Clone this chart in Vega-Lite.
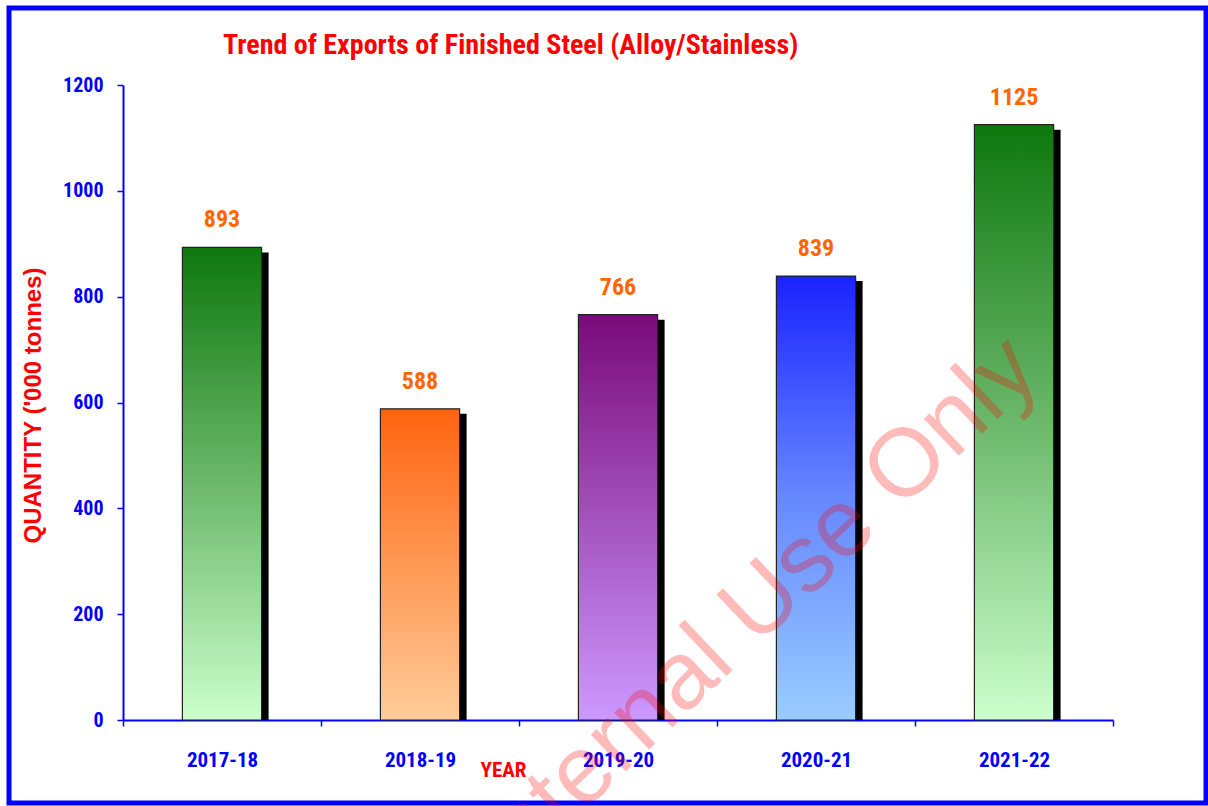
{
  "$schema": "https://vega.github.io/schema/vega-lite/v6.json",
  "width": 1197,
  "height": 795,
  "autosize": {"type": "none"},
  "padding": {"left": 9, "top": 8, "right": 2, "bottom": 3},
  "background": "white",
  "title": {
    "text": "Trend of Exports of Finished Steel (Alloy/Stainless)",
    "anchor": "start",
    "frame": "group",
    "offset": 0,
    "dx": 214,
    "dy": 74,
    "baseline": "alphabetic",
    "font": "Roboto Condensed, DejaVu Sans Condensed, sans-serif",
    "fontSize": 28,
    "fontWeight": "bold",
    "color": "#ff0000"
  },
  "config": {
    "view": {"stroke": "#0000ff", "strokeWidth": 5, "fill": "white"}
  },
  "datasets": {
    "exports": [
      {"year": "2017-18", "qty": 893},
      {"year": "2018-19", "qty": 588},
      {"year": "2019-20", "qty": 766},
      {"year": "2020-21", "qty": 839},
      {"year": "2021-22", "qty": 1125}
    ],
    "watermark": [
      {"note": "Internal Use Only", "year": "2020-21", "qty": 208}
    ]
  },
  "layer": [
    {
      "data": {"name": "exports"},
      "encoding": {
        "x": {
          "field": "year",
          "type": "nominal",
          "sort": null,
          "scale": {"range": [114, 1104], "paddingInner": 0, "paddingOuter": 0},
          "axis": {
            "title": "YEAR",
            "orient": "bottom",
            "offset": -83,
            "labelAngle": 0,
            "tickBand": "extent",
            "domainColor": "#0000ff",
            "domainWidth": 2,
            "tickColor": "#0000ff",
            "tickWidth": 1.5,
            "tickSize": 6,
            "labelColor": "#0000ff",
            "labelFont": "Roboto Condensed, DejaVu Sans Condensed, sans-serif",
            "labelFontSize": 21,
            "labelFontWeight": "bold",
            "labelBaseline": "middle",
            "labelPadding": 34,
            "titleColor": "#ff0000",
            "titleFont": "Roboto Condensed, DejaVu Sans Condensed, sans-serif",
            "titleFontSize": 21,
            "titleFontWeight": "bold",
            "titleX": 494,
            "titleY": 50,
            "titleAlign": "center",
            "titleBaseline": "middle",
            "grid": false
          }
        },
        "y": {
          "field": "qty",
          "type": "quantitative",
          "scale": {"domain": [0, 1200], "range": [712, 77], "nice": false, "zero": true},
          "axis": {
            "title": "QUANTITY ('000 tonnes)",
            "orient": "left",
            "offset": -114,
            "values": [0, 200, 400, 600, 800, 1000, 1200],
            "format": "d",
            "domainColor": "#0000ff",
            "domainWidth": 2,
            "tickColor": "#0000ff",
            "tickWidth": 1.5,
            "tickSize": 6,
            "labelColor": "#0000ff",
            "labelFont": "Roboto Condensed, DejaVu Sans Condensed, sans-serif",
            "labelFontSize": 20,
            "labelFontWeight": "bold",
            "labelPadding": 14,
            "titleColor": "#ff0000",
            "titleFont": "Liberation Sans, Arial, sans-serif",
            "titleFontSize": 24,
            "titleFontWeight": "bold",
            "titleAngle": -90,
            "titleX": -90,
            "titleY": 397,
            "titleAlign": "center",
            "titleBaseline": "middle",
            "grid": false
          }
        }
      },
      "layer": [
        {
          "mark": {"type": "bar", "width": {"band": 0.4}, "fill": "#000000", "xOffset": 7, "yOffset": 5},
          "encoding": {"y2": {"datum": 0}}
        },
        {
          "transform": [{"filter": {"field": "year", "oneOf": ["2017-18", "2021-22"]}}],
          "mark": {
            "type": "bar", "width": {"band": 0.4}, "stroke": "#222222", "strokeWidth": 1.2,
            "color": {"gradient": "linear", "x1": 0, "y1": 0, "x2": 0, "y2": 1,
              "stops": [{"offset": 0, "color": "#0e780e"}, {"offset": 0.5, "color": "#6cb86c"}, {"offset": 1, "color": "#ccffcc"}]}
          },
          "encoding": {"y2": {"datum": 0}}
        },
        {
          "transform": [{"filter": {"field": "year", "equal": "2018-19"}}],
          "mark": {
            "type": "bar", "width": {"band": 0.4}, "stroke": "#222222", "strokeWidth": 1.2,
            "color": {"gradient": "linear", "x1": 0, "y1": 0, "x2": 0, "y2": 1,
              "stops": [{"offset": 0, "color": "#ff6410"}, {"offset": 1, "color": "#ffcc99"}]}
          },
          "encoding": {"y2": {"datum": 0}}
        },
        {
          "transform": [{"filter": {"field": "year", "equal": "2019-20"}}],
          "mark": {
            "type": "bar", "width": {"band": 0.4}, "stroke": "#222222", "strokeWidth": 1.2,
            "color": {"gradient": "linear", "x1": 0, "y1": 0, "x2": 0, "y2": 1,
              "stops": [{"offset": 0, "color": "#7a0a7a"}, {"offset": 1, "color": "#cc99ff"}]}
          },
          "encoding": {"y2": {"datum": 0}}
        },
        {
          "transform": [{"filter": {"field": "year", "equal": "2020-21"}}],
          "mark": {
            "type": "bar", "width": {"band": 0.4}, "stroke": "#222222", "strokeWidth": 1.2,
            "color": {"gradient": "linear", "x1": 0, "y1": 0, "x2": 0, "y2": 1,
              "stops": [{"offset": 0, "color": "#1a22ff"}, {"offset": 0.5, "color": "#6688ff"}, {"offset": 1, "color": "#99ccff"}]}
          },
          "encoding": {"y2": {"datum": 0}}
        },
        {
          "mark": {
            "type": "text", "baseline": "alphabetic", "dy": -20, "color": "#ff6600",
            "font": "Roboto Condensed, DejaVu Sans Condensed, sans-serif",
            "fontSize": 24, "fontWeight": "bold"
          },
          "encoding": {"text": {"field": "qty", "type": "quantitative"}}
        }
      ]
    },
    {
      "data": {"name": "watermark"},
      "mark": {
        "type": "text", "angle": 316.5, "align": "center", "baseline": "middle",
        "fill": "#ff0000", "fillOpacity": 0.27, "xOffset": -62,
        "font": "Liberation Sans, Arial, sans-serif", "fontSize": 96
      },
      "encoding": {
        "x": {"field": "year", "type": "nominal", "sort": null},
        "y": {"field": "qty", "type": "quantitative"},
        "text": {"field": "note", "type": "nominal"}
      }
    }
  ]
}
